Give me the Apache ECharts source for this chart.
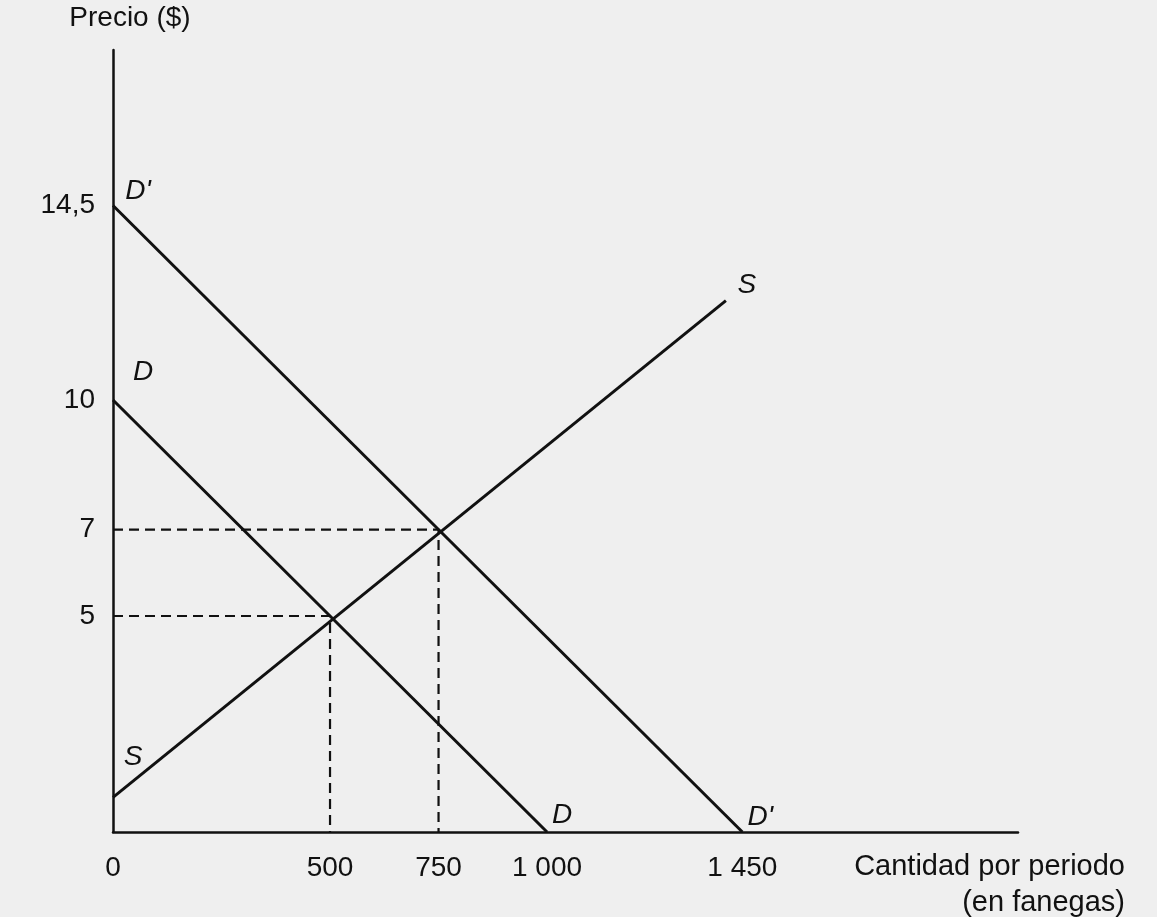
<!DOCTYPE html>
<html><head><meta charset="utf-8">
<script src="https://cdn.jsdelivr.net/npm/echarts@6/dist/echarts.min.js"></script>
<style>html,body{margin:0;padding:0;background:#efefef}#c{width:1157px;height:917px}</style>
</head><body><div id="c"></div>
<script>
// ---- data ----
const xTickValues = [0, 500, 750, 1000, 1450];
const xTickLabels = ['0', '500', '750', '1 000', '1 450'];
const yTickValues = [5, 7, 10, 14.5];
const yTickLabels = ['5', '7', '10', '14,5'];
const demandD  = [[0, 10], [1000, 0]];
const demandD2 = [[0, 14.5], [1450, 0]];
const supplyS  = [[0, 0.8], [1412, 12.3]];
const equilibria = [[500, 5], [750, 7]];
const curveLabelNames  = ["D'", 'D', 'S', 'S', 'D', "D'"];
const curveLabelPoints = [[0, 14.5], [0, 10], [0, 0.8], [1412, 12.3], [1000, 0], [1450, 0]];
const yAxisName = 'Precio ($)';
const xAxisName = ['Cantidad por periodo', '(en fanegas)'];

// ---- styling ----
const FONT = '"Liberation Sans", Arial, sans-serif';
const labelOffsets = [[25, -14], [30, -28], [20, -40], [21, -15], [15, -17], [18, -15]];
const ink = '#111111';

const chart = echarts.init(document.getElementById('c'), null, {renderer: 'canvas'});

const lineSeries = (data) => ({
  type: 'line', data, symbol: 'none', silent: true,
  lineStyle: {color: ink, width: 3}, z: 3
});

const dashed = equilibria.map(([q, p]) => ({
  type: 'line', data: [[0, p], [q, p], [q, 0]], symbol: 'none', silent: true,
  lineStyle: {color: ink, width: 2.2, type: [10, 6]}, z: 2
}));

const labelSeries = {
  type: 'scatter', symbolSize: 1, silent: true,
  itemStyle: {color: 'rgba(0,0,0,0)', opacity: 1},
  data: curveLabelPoints.map((pt, i) => ({
    value: pt,
    label: {
      show: true, formatter: curveLabelNames[i], position: 'inside',
      offset: labelOffsets[i], color: ink, fontSize: 28, fontStyle: 'italic',
      fontFamily: FONT, opacity: 1
    }
  })),
  z: 5
};

chart.setOption({
  backgroundColor: '#efefef',
  animation: false,
  grid: {left: 113, top: 50, width: 905, bottom: 85, containLabel: false},
  xAxis: {
    type: 'value', min: 0, max: 2085,
    axisLine: {show: true, lineStyle: {color: ink, width: 2.5}},
    axisTick: {show: false},
    splitLine: {show: false},
    axisLabel: {
      customValues: xTickValues,
      formatter: (v) => xTickLabels[xTickValues.indexOf(v)],
      color: ink, fontSize: 28, fontFamily: FONT, margin: 22
    }
  },
  yAxis: {
    type: 'value', min: 0, max: 18.1,
    name: yAxisName, nameLocation: 'end', nameGap: 18,
    nameTextStyle: {color: ink, fontSize: 28, fontFamily: FONT, padding: [0, 0, 0, 34]},
    axisLine: {show: true, lineStyle: {color: ink, width: 2.5}},
    axisTick: {show: false},
    splitLine: {show: false},
    axisLabel: {
      customValues: yTickValues,
      formatter: (v) => yTickLabels[yTickValues.indexOf(v)],
      color: ink, fontSize: 28, fontFamily: FONT, margin: 18
    }
  },
  graphic: xAxisName.map((t, i) => ({
    type: 'text', right: 32, top: 852 + i * 36,
    style: {text: t, fill: ink, font: '29px ' + FONT}
  })),
  series: [lineSeries(demandD), lineSeries(demandD2), lineSeries(supplyS), ...dashed, labelSeries]
});
</script></body></html>
